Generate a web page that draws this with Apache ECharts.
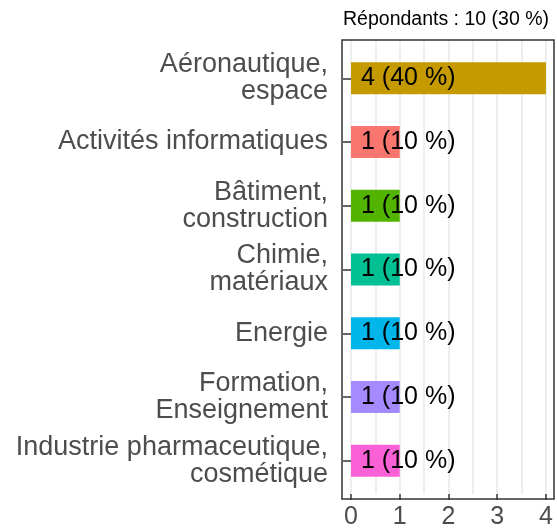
<!DOCTYPE html>
<html>
<head>
<meta charset="utf-8">
<script src="https://cdn.jsdelivr.net/npm/echarts@6/dist/echarts.min.js"></script>
<style>
  html, body { margin: 0; padding: 0; background: #fff; }
  #chart { width: 557px; height: 530px; }
</style>
</head>
<body>
<div id="chart"></div>
<script>
  // secteurs d'activité
  const categories = [
    'Aéronautique,\nespace',
    'Activités informatiques',
    'Bâtiment,\nconstruction',
    'Chimie,\nmatériaux',
    'Energie',
    'Formation,\nEnseignement',
    'Industrie pharmaceutique,\ncosmétique'
  ];
  const counts = [4, 1, 1, 1, 1, 1, 1];
  const percents = [40, 10, 10, 10, 10, 10, 10];
  const colors = ['#C49A00', '#F8766D', '#53B400', '#00C094', '#00B6EB', '#A58AFF', '#FB61D7'];
  const xTicks = [0, 1, 2, 3, 4];
  const titleText = 'Répondants : 10 (30 %)';

  const font = "'Liberation Sans', Arial, sans-serif";
  const xMin = -0.185, xMax = 4.165;

  const chart = echarts.init(document.getElementById('chart'));

  const option = {
    animation: false,
    title: {
      text: titleText,
      right: 3,
      top: 5,
      textStyle: { fontFamily: font, fontSize: 19.5, fontWeight: 'normal', color: '#000' }
    },
    grid: [
      // panneau (fond, grille, axe x)
      { left: 342, right: 3, top: 40, bottom: 31 },
      // barres
      { left: 342, right: 3, top: 46.375, bottom: 37.375 }
    ],
    xAxis: [
      {
        // lignes de grille tous les 0.5
        gridIndex: 0, type: 'value', min: xMin, max: xMax, splitNumber: 9,
        axisLine: { show: false }, axisTick: { show: false }, axisLabel: { show: false },
        splitLine: { show: true, showMinLine: false, showMaxLine: false, lineStyle: { color: '#E8E8E8', width: 1.5 } }
      },
      {
        gridIndex: 0, type: 'value', min: xMin, max: xMax, splitNumber: 5, position: 'bottom',
        axisLine: { show: false },
        splitLine: { show: false },
        axisTick: { show: true, length: 6, customValues: xTicks, lineStyle: { color: '#333', width: 1.5 } },
        axisLabel: {
          show: true, customValues: xTicks,
          margin: 11, fontFamily: font, fontSize: 25, color: '#4D4D4D'
        }
      },
      {
        gridIndex: 1, type: 'value', min: xMin, max: xMax, show: false
      }
    ],
    yAxis: [
      { gridIndex: 0, type: 'value', show: false },
      {
        gridIndex: 1, type: 'category', data: categories, inverse: true,
        axisLine: { show: false },
        axisTick: { show: true, alignWithLabel: true, length: 8, lineStyle: { color: '#333', width: 1.5 } },
        axisLabel: {
          margin: 14, fontFamily: font, fontSize: 27, lineHeight: 27,
          padding: [4, 0, 0, 0],
          color: '#4D4D4D', align: 'right'
        },
        splitLine: { show: false }
      }
    ],
    series: [{
      type: 'bar',
      xAxisIndex: 2,
      yAxisIndex: 1,
      barWidth: 32,
      data: counts.map((v, i) => ({ value: v, itemStyle: { color: colors[i] } })),
      label: {
        show: true,
        position: 'insideLeft',
        distance: 10,
        fontFamily: font,
        fontSize: 25,
        color: '#000',
        formatter: p => counts[p.dataIndex] + ' (' + percents[p.dataIndex] + ' %)'
      }
    }],
    graphic: [{
      type: 'rect',
      z: 100,
      shape: { x: 342, y: 40, width: 212, height: 459 },
      style: { fill: null, stroke: '#333', lineWidth: 1.5 }
    }]
  };

  chart.setOption(option);
</script>
</body>
</html>
